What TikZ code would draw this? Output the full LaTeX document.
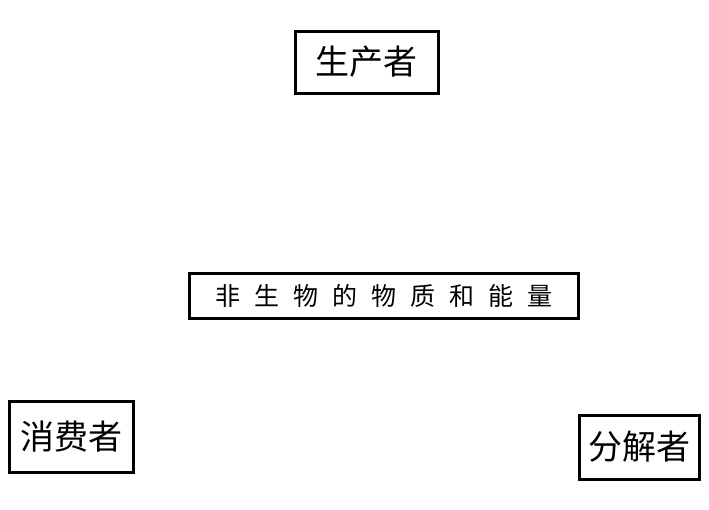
\documentclass[tikz,border=0pt]{standalone}
\usepackage{fontspec}
\newfontfamily\cjk{Noto Sans CJK SC}
\begin{document}
\begin{tikzpicture}[x=1pt,y=1pt,
  box/.style={draw=black,line width=3pt,inner sep=0pt,font=\cjk\fontsize{34}{36}\selectfont}]
\useasboundingbox (0,0) rectangle (709,-509);
\node[box,minimum width=143pt,minimum height=62pt] (p) at (366.5,-62) {生产者};
\node[box,minimum width=389pt,minimum height=45pt,font=\cjk\fontsize{25}{27}\selectfont] (n) at (383.5,-295.5) {非\hspace{14pt}生\hspace{14pt}物\hspace{14pt}的\hspace{14pt}物\hspace{14pt}质\hspace{14pt}和\hspace{14pt}能\hspace{14pt}量};
\node[box,minimum width=124pt,minimum height=71pt] (c) at (71,-436.5) {消费者};
\node[box,minimum width=120pt,minimum height=64pt] (d) at (639,-447) {分解者};
\end{tikzpicture}
\end{document}
